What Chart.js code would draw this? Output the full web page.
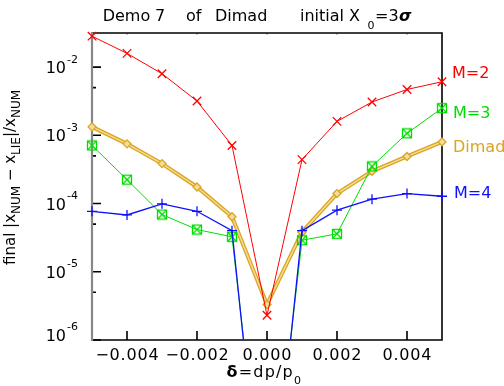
<!DOCTYPE html>
<html><head><meta charset="utf-8">
<script src="https://cdn.jsdelivr.net/npm/chart.js@4"></script>
<style>html,body{margin:0;padding:0;background:#fff}canvas{display:block}</style>
</head><body>
<canvas id="c" width="504" height="386"></canvas>
<script>
// ---- data ----
const deltas = [-0.005,-0.004,-0.003,-0.002,-0.001,0,0.001,0.002,0.003,0.004,0.005];
const m2    = [2.84e-2,1.59e-2,8.0e-3,3.18e-3,7.1e-4,2.3e-6,4.4e-4,1.6e-3,3.08e-3,4.7e-3,6.1e-3];
const m3    = [7.1e-4,2.24e-4,6.9e-5,4.16e-5,3.25e-5,1.0e-9,2.9e-5,3.6e-5,3.5e-4,1.07e-3,2.5e-3];
const m4    = [7.7e-5,6.8e-5,9.9e-5,7.7e-5,4.0e-5,5e-10,4.0e-5,8.0e-5,1.16e-4,1.4e-4,1.28e-4];
const dimad = [1.33e-3,7.5e-4,3.85e-4,1.75e-4,6.4e-5,3.3e-6,3.8e-5,1.4e-4,2.97e-4,4.9e-4,8.0e-4];
const seriesLabels = ['M=2','M=3','Dimad','M=4'];
const xTicks = [-0.004,-0.002,0,0.002,0.004];
const yMajor = [1e-6,1e-5,1e-4,1e-3,1e-2];
const yMinor = [5e-6,5e-5,5e-4,5e-3];
const xMin = -0.005, xMax = 0.005, yMin = 1e-6, yMax = 0.0316;

const RED='#ff0000', GREEN='#00dd00', BLUE='#1010ff', GOLD='#daa520', GOLDL='#f6dc96';
const FONT='"DejaVu Sans"';

function pts(arr){ return deltas.map((d,i)=>({x:d,y:arr[i]})); }

function boxX(color){
  const c=document.createElement('canvas'); c.width=c.height=12;
  const g=c.getContext('2d'); g.strokeStyle=color; g.lineWidth=1.3;
  g.strokeRect(1.5,1.5,9,9);
  g.beginPath(); g.moveTo(1.5,1.5); g.lineTo(10.5,10.5); g.moveTo(10.5,1.5); g.lineTo(1.5,10.5); g.stroke();
  return c;
}
const clip = {left:12,right:12,top:12,bottom:0};

const frame = {
  id:'frame',
  beforeDatasetsDraw(chart){
    const {ctx, chartArea:a, scales:{x,y}} = chart;
    ctx.save();
    ctx.strokeStyle='#000'; ctx.lineWidth=1.6;
    ctx.beginPath();
    yMajor.forEach(v=>{const p=y.getPixelForValue(v); ctx.moveTo(a.left,p); ctx.lineTo(a.left+9,p);});
    yMinor.forEach(v=>{const p=y.getPixelForValue(v); ctx.moveTo(a.left,p); ctx.lineTo(a.left+4,p);});
    xTicks.forEach(v=>{const p=x.getPixelForValue(v); ctx.moveTo(p,a.bottom); ctx.lineTo(p,a.bottom-9);});
    ctx.stroke();
    ctx.strokeStyle='#999'; ctx.lineWidth=1;
    ctx.beginPath();
    xTicks.forEach(v=>{const p=x.getPixelForValue(v); ctx.moveTo(p,a.top); ctx.lineTo(p,a.top+2);});
    ctx.stroke();
    // frame
    ctx.strokeStyle='#000'; ctx.lineWidth=1.6;
    ctx.beginPath(); ctx.moveTo(a.left,a.top); ctx.lineTo(a.right,a.top); ctx.lineTo(a.right,a.bottom); ctx.lineTo(a.left,a.bottom); ctx.stroke();
    ctx.strokeStyle='#888'; ctx.lineWidth=2.2;
    ctx.beginPath(); ctx.moveTo(a.left,a.top-1); ctx.lineTo(a.left,a.bottom+1); ctx.stroke();
    ctx.restore();
  },
  afterDraw(chart){
    const {ctx, chartArea:a, scales:{x,y}} = chart;
    ctx.save();
    ctx.fillStyle='#000'; ctx.textBaseline='alphabetic';
    // x tick labels
    ctx.font='16px '+FONT; ctx.textAlign='center'; ctx.letterSpacing='0.8px';
    xTicks.forEach(v=>{
      const s=(v===0?'0.000':v.toFixed(3)).replace('-','\u2212');
      ctx.fillText(s, x.getPixelForValue(v)+0.4, 359.5);
    });
    ctx.letterSpacing='0px';
    // y tick labels
    yMajor.forEach(v=>{
      let p=y.getPixelForValue(v);
      if (v===yMin) p-=5.5;
      const e=Math.round(Math.log10(v));
      ctx.font='16px '+FONT; ctx.textAlign='right';
      ctx.fillText('10', 66, p+6);
      ctx.font='11px '+FONT; ctx.textAlign='left';
      ctx.fillText('-'+Math.abs(e), 67, p-4.5);
    });
    // title
    ctx.font='16px '+FONT; ctx.textAlign='left';
    [['Demo',102.7],['7',155],['of',186],['Dimad',215],['initial',300],['X',349]].forEach(([t,px])=>ctx.fillText(t,px,20.7));
    ctx.font='11px '+FONT; ctx.fillText('0',367.5,29);
    ctx.font='16px '+FONT; ctx.fillText('=3',375,20.7);
    let w=ctx.measureText('=3').width;
    ctx.font='italic bold 16px '+FONT; ctx.fillText('\u03c3',375+w+0.5,20.7);
    // x axis title
    ctx.font='bold 16px '+FONT; ctx.letterSpacing='1.2px';
    let cx=226.5; ctx.fillText('\u03b4',cx,377); cx+=ctx.measureText('\u03b4').width;
    ctx.font='16px '+FONT; ctx.fillText('=dp/p',cx,377); cx+=ctx.measureText('=dp/p').width;
    ctx.font='11px '+FONT; ctx.fillText('0',cx,384);
    ctx.letterSpacing='0px';
    // y axis title (rotated)
    ctx.save();
    ctx.translate(15,265); ctx.rotate(-Math.PI/2);
    const parts=[['final ',0],['|',0],['x',0],['NUM',1],[' \u2212 ',0],['x',0],['LIE',1],['|/',0],['x',0],['NUM',1]];
    let tx=0;
    parts.forEach(([t,sub])=>{
      ctx.font=(sub?'12px ':'15px ')+FONT;
      ctx.fillText(t,tx,sub?4.5:0);
      tx+=ctx.measureText(t).width;
    });
    ctx.restore();
    // series labels on the right
    ctx.font='16px '+FONT; ctx.textAlign='left';
    const lab=[[seriesLabels[0],452,78,RED],[seriesLabels[1],453,118,GREEN],[seriesLabels[2],453,152,GOLD],[seriesLabels[3],454,198,BLUE]];
    lab.forEach(([t,px,py,c])=>{ctx.fillStyle=c; ctx.fillText(t,px,py);});
    ctx.restore();
  }
};

new Chart(document.getElementById('c'), {
  type:'line',
  data:{datasets:[
    {label:seriesLabels[0], data:pts(m2), borderColor:RED, borderWidth:1, pointStyle:'crossRot', pointRadius:6, pointBorderColor:RED, pointBorderWidth:1.3, clip},
    {label:seriesLabels[3], data:pts(m4), borderColor:BLUE, borderWidth:1.3, pointStyle:'cross', pointRadius:5, pointBorderColor:BLUE, pointBorderWidth:1.3, clip},
    {label:seriesLabels[1], data:pts(m3), borderColor:GREEN, borderWidth:1, pointStyle:boxX(GREEN), pointRadius:6, clip},
    {label:seriesLabels[2], data:pts(dimad), borderColor:GOLDL, borderWidth:1.4, pointStyle:'rectRot', pointRadius:4, pointBorderColor:GOLD, pointBackgroundColor:GOLDL, pointBorderWidth:1.3, clip},
    {label:seriesLabels[2]+'_outline', data:pts(dimad), borderColor:GOLD, borderWidth:4, pointRadius:0, clip}
  ]},
  options:{
    responsive:false, animation:false, events:[],
    layout:{padding:{top:33,right:62,left:0,bottom:0}},
    plugins:{legend:{display:false},title:{display:false},tooltip:{enabled:false}},
    elements:{line:{tension:0,fill:false}},
    scales:{
      x:{type:'linear',min:xMin,max:xMax,grid:{display:false},border:{display:false},ticks:{display:false},
         afterBuildTicks(s){s.ticks=xTicks.map(v=>({value:v}));}, afterFit(s){s.height=46;}},
      y:{type:'logarithmic',min:yMin,max:yMax,grid:{display:false},border:{display:false},ticks:{display:false},
         afterBuildTicks(s){s.ticks=yMajor.map(v=>({value:v,major:true})).concat(yMinor.map(v=>({value:v})));}, afterFit(s){s.width=92;}}
    }
  },
  plugins:[frame]
});
</script>
</body></html>
